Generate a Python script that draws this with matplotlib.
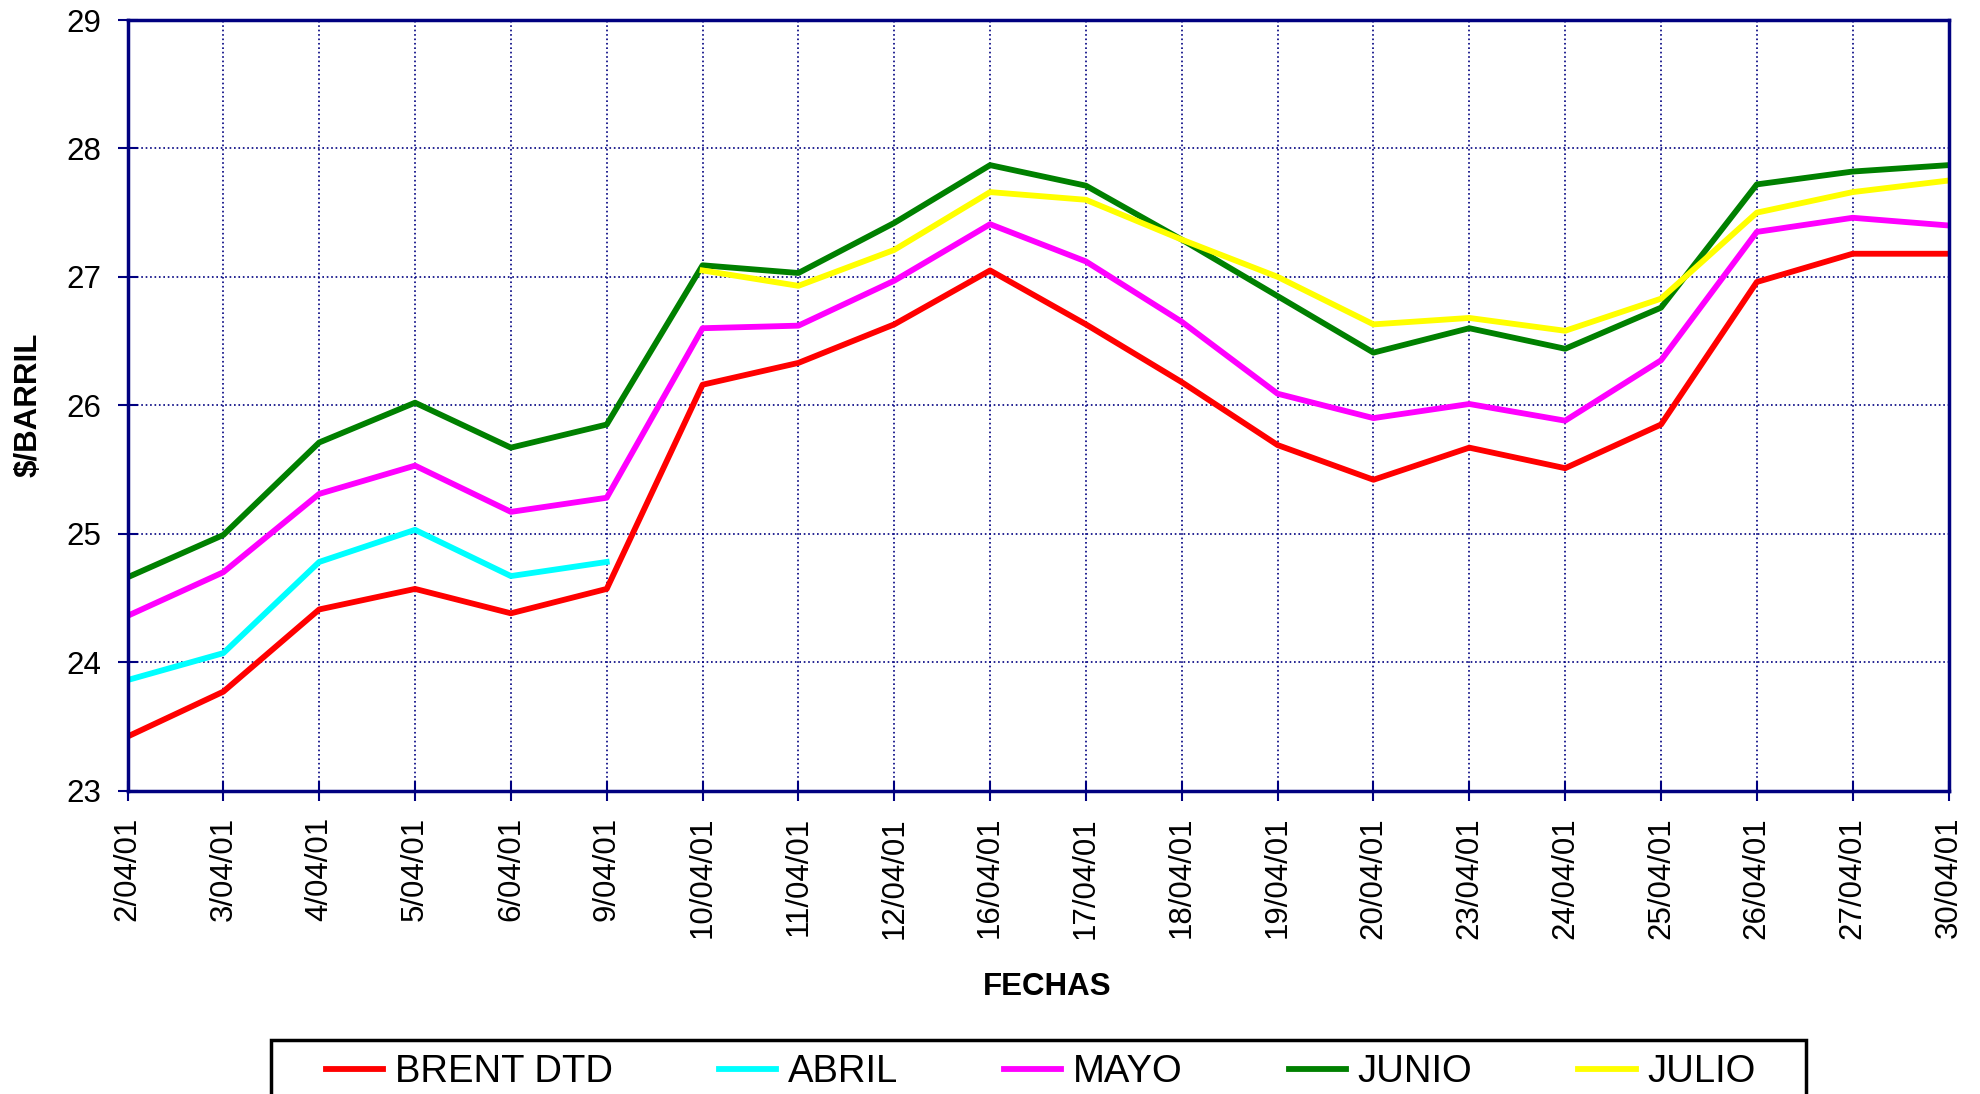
import matplotlib.pyplot as plt
from matplotlib.patches import Rectangle

plt.rcParams['font.family'] = ['Liberation Sans', 'DejaVu Sans']

# Fechas (abril 2001)
fechas = ['2/04/01', '3/04/01', '4/04/01', '5/04/01', '6/04/01', '9/04/01',
          '10/04/01', '11/04/01', '12/04/01', '16/04/01', '17/04/01', '18/04/01',
          '19/04/01', '20/04/01', '23/04/01', '24/04/01', '25/04/01', '26/04/01',
          '27/04/01', '30/04/01']

brent = [23.42, 23.77, 24.41, 24.57, 24.38, 24.57, 26.16, 26.33, 26.63, 27.05,
         26.63, 26.18, 25.69, 25.42, 25.67, 25.51, 25.85, 26.96, 27.18, 27.18]
abril = [23.86, 24.07, 24.78, 25.03, 24.67, 24.78]
mayo = [24.36, 24.70, 25.31, 25.53, 25.17, 25.28, 26.60, 26.62, 26.97, 27.41,
        27.12, 26.65, 26.09, 25.90, 26.01, 25.88, 26.35, 27.35, 27.46, 27.40]
junio = [24.66, 24.99, 25.71, 26.02, 25.67, 25.85, 27.09, 27.03, 27.42, 27.87,
         27.71, 27.29, 26.85, 26.41, 26.60, 26.44, 26.76, 27.72, 27.82, 27.87]
julio = [27.05, 26.93, 27.21, 27.66, 27.60, 27.29, 27.00, 26.63, 26.68, 26.58,
         26.83, 27.50, 27.66, 27.75]
julio_inicio = 6

navy = '#000080'

fig = plt.figure(figsize=(19.8, 10.94), dpi=100)
ax = fig.add_axes([0.0644, 0.2774, 0.9197, 0.7043])

x = list(range(len(fechas)))
lw = 4.2
ax.plot(x, brent, color='#ff0000', lw=lw, label='BRENT DTD')
ax.plot(x[:len(abril)], abril, color='#00ffff', lw=lw, label='ABRIL')
ax.plot(x, mayo, color='#ff00ff', lw=lw, label='MAYO')
ax.plot(x, junio, color='#008000', lw=lw, label='JUNIO')
ax.plot(x[julio_inicio:], julio, color='#ffff00', lw=lw, label='JULIO')

ax.set_xlim(0, len(fechas) - 1)
ax.set_ylim(23, 29)
ax.set_xticks(x)
ax.set_xticklabels(fechas, rotation=90)
ax.set_yticks(range(23, 30))

ax.grid(True, color=navy, linestyle=':', linewidth=1.2)
ax.set_axisbelow(True)
for s in ax.spines.values():
    s.set_color(navy)
    s.set_linewidth(2.5)
ax.tick_params(axis='both', direction='inout', length=14, width=1.5,
               color=navy, labelsize=22.5, pad=12)

ax.set_xlabel('FECHAS', fontsize=22.5, fontweight='bold', labelpad=24)
ax.xaxis.label.set_x(0.505)
ax.set_ylabel('$/BARRIL', fontsize=22.5, fontweight='bold', labelpad=16)

# Leyenda con marco recortado por el borde inferior
fig.patches.append(Rectangle((271 / 1980, -0.05), (1806 - 271) / 1980, 0.0494 + 0.05,
                             transform=fig.transFigure, fill=False,
                             edgecolor='black', linewidth=2.5))
fig.legend(loc='center left', bbox_to_anchor=(326 / 1980, 22 / 1094),
           ncol=5, frameon=False, fontsize=27.5, handlelength=1.5,
           handletextpad=0.3, columnspacing=2.78, borderpad=0, borderaxespad=0)

fig.savefig('out.png', dpi=100)
